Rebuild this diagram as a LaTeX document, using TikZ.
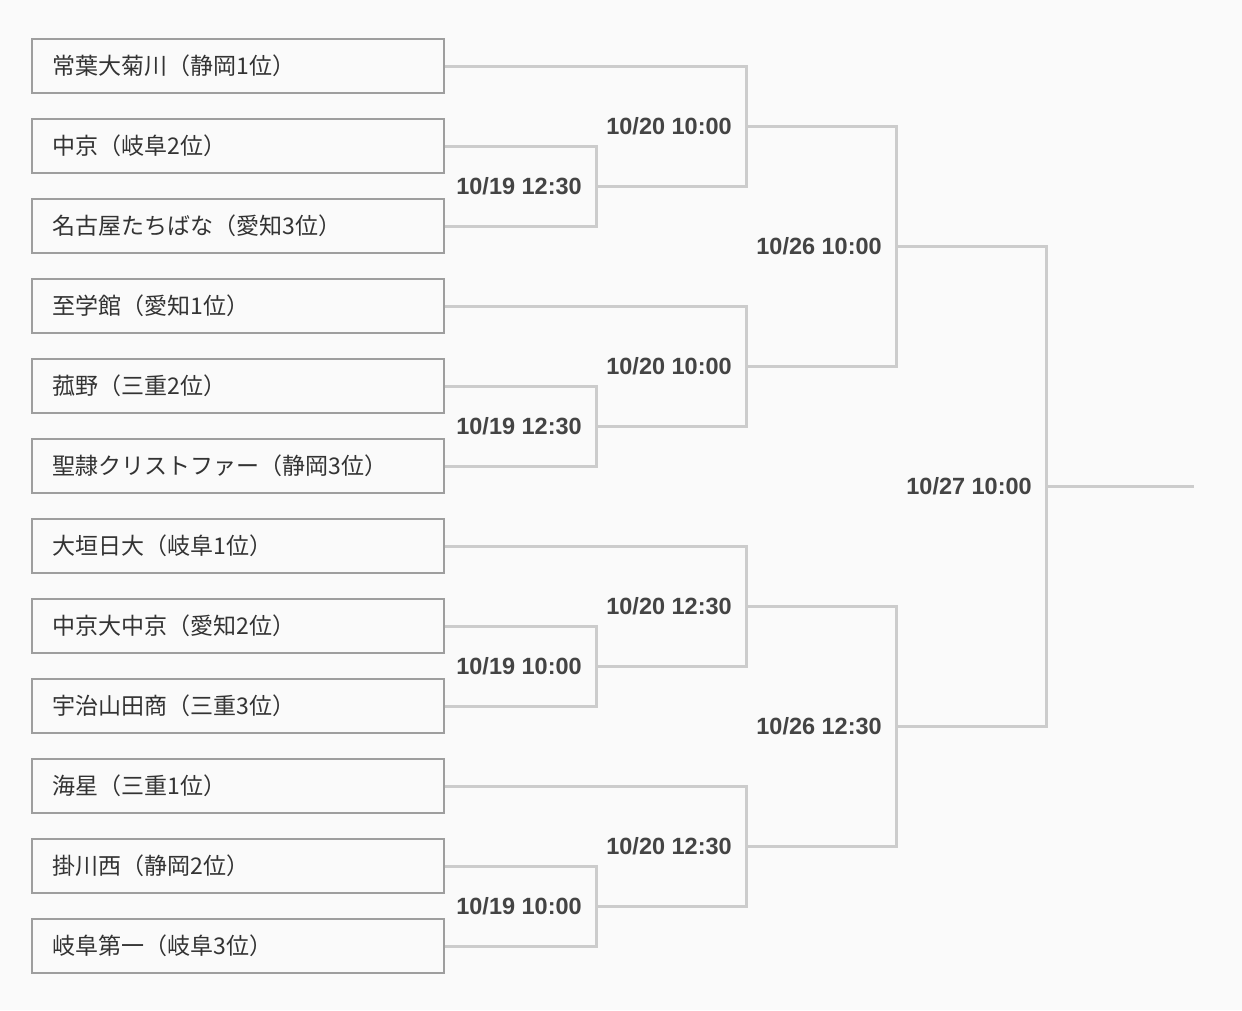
\documentclass[tikz,border=0pt]{standalone}
\usepackage{fontspec}
\setmainfont{Liberation Sans}
\newfontfamily\jpfont{Noto Sans CJK JP}
\definecolor{bg}{HTML}{FAFAFA}
\definecolor{boxline}{HTML}{9E9E9E}
\definecolor{bracket}{HTML}{CCCCCC}
\definecolor{ink}{HTML}{333333}
\definecolor{dateink}{HTML}{444444}

\begin{document}
\begin{tikzpicture}[x=1pt,y=-1pt,
    team/.style={draw=boxline,line width=2pt,fill=bg,anchor=west,
      minimum height=54pt,text width=371pt,inner xsep=20.5pt,align=left,
      font=\jpfont\fontsize{23}{27}\selectfont,text=ink},
    date/.style={anchor=east,inner xsep=0pt,font=\bfseries\fontsize{23.5}{27}\selectfont,text=dateink},
    bline/.style={draw=bracket,line width=3pt}]
    \fill[bg] (0,0) rectangle (1242,1010);
    % teams
    \node[team] (t1)  at (31,66)  {常葉大菊川（静岡1位）};
    \node[team] (t2)  at (31,146) {中京（岐阜2位）};
    \node[team] (t3)  at (31,226) {名古屋たちばな（愛知3位）};
    \node[team] (t4)  at (31,306) {至学館（愛知1位）};
    \node[team] (t5)  at (31,386) {菰野（三重2位）};
    \node[team] (t6)  at (31,466) {聖隷クリストファー（静岡3位）};
    \node[team] (t7)  at (31,546) {大垣日大（岐阜1位）};
    \node[team] (t8)  at (31,626) {中京大中京（愛知2位）};
    \node[team] (t9)  at (31,706) {宇治山田商（三重3位）};
    \node[team] (t10) at (31,786) {海星（三重1位）};
    \node[team] (t11) at (31,866) {掛川西（静岡2位）};
    \node[team] (t12) at (31,946) {岐阜第一（岐阜3位）};
    % matches
    \coordinate (m1)  at (596,186);
    \coordinate (m2)  at (746,126);
    \coordinate (m3)  at (596,426);
    \coordinate (m4)  at (746,366);
    \coordinate (m5)  at (896,246);
    \coordinate (m6)  at (596,666);
    \coordinate (m7)  at (746,606);
    \coordinate (m8)  at (596,906);
    \coordinate (m9)  at (746,846);
    \coordinate (m10) at (896,726);
    \coordinate (m11) at (1046,486);
    \coordinate (win) at (1194,486);
    \draw[bline] (t2.east) -| (m1) |- (t3.east);
    \draw[bline] (t1.east) -| (m2) |- (m1);
    \draw[bline] (t5.east) -| (m3) |- (t6.east);
    \draw[bline] (t4.east) -| (m4) |- (m3);
    \draw[bline] (m2) -| (m5) |- (m4);
    \draw[bline] (t8.east) -| (m6) |- (t9.east);
    \draw[bline] (t7.east) -| (m7) |- (m6);
    \draw[bline] (t11.east) -| (m8) |- (t12.east);
    \draw[bline] (t10.east) -| (m9) |- (m8);
    \draw[bline] (m7) -| (m10) |- (m9);
    \draw[bline] (m5) -| (m11) |- (m10);
    \draw[bline] (m11) -- (win);
    % dates
    \node[date] (d1)  at ([xshift=-14pt]m1)  {10/19 12:30};
    \node[date] (d2)  at ([xshift=-14pt]m2)  {10/20 10:00};
    \node[date] (d3)  at ([xshift=-14pt]m3)  {10/19 12:30};
    \node[date] (d4)  at ([xshift=-14pt]m4)  {10/20 10:00};
    \node[date] (d5)  at ([xshift=-14pt]m5)  {10/26 10:00};
    \node[date] (d6)  at ([xshift=-14pt]m6)  {10/19 10:00};
    \node[date] (d7)  at ([xshift=-14pt]m7)  {10/20 12:30};
    \node[date] (d8)  at ([xshift=-14pt]m8)  {10/19 10:00};
    \node[date] (d9)  at ([xshift=-14pt]m9)  {10/20 12:30};
    \node[date] (d10) at ([xshift=-14pt]m10) {10/26 12:30};
    \node[date] (d11) at ([xshift=-14pt]m11) {10/27 10:00};
\end{tikzpicture}
\end{document}
